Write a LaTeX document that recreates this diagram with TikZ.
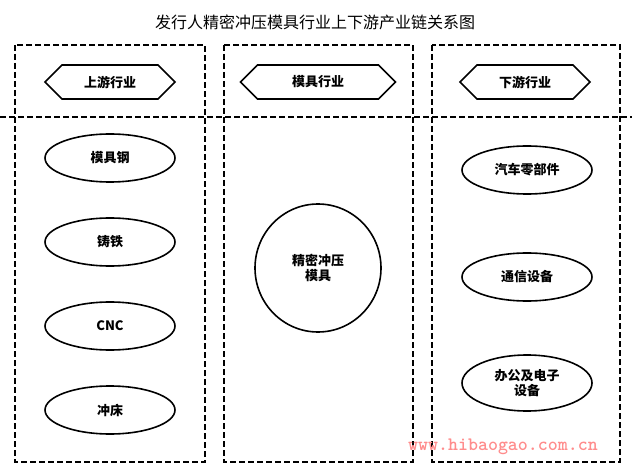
\documentclass[tikz,border=0pt]{standalone}
\usepackage{fontspec}
\newfontfamily\cjk{Noto Sans CJK SC}
\usetikzlibrary{shapes.geometric,shapes.symbols}
\tikzset{
  column/.style={draw,line width=1.6pt,dash pattern=on 6pt off 3pt},
  header/.style={draw,line width=1.6pt,signal,signal to=west and east,minimum width=130pt,minimum height=34pt,inner sep=0pt,font=\cjk\bfseries\fontsize{13}{15}\selectfont},
  item/.style={draw,line width=1.6pt,ellipse,minimum width=130pt,minimum height=48pt,inner sep=0pt,align=center,font=\cjk\bfseries\fontsize{13}{15}\selectfont}
}
\begin{document}
\begin{tikzpicture}[x=1pt,y=-1pt]
\useasboundingbox (0,0) rectangle (632,473);
\node[font=\cjk\fontsize{16}{18}\selectfont] (title) at (315,22) {发行人精密冲压模具行业上下游产业链关系图};
% columns
\draw[column] (15,45) rectangle (205,462);
\draw[column] (224,45) rectangle (413,462);
\draw[column] (432,45) rectangle (620,462);
\draw[column] (0,117) -- (632,117);
% headers
\node[header] (up) at (110,82) {上游行业};
\node[header,minimum width=155pt] (mid) at (318,82) {模具行业};
\node[header] (down) at (525,82) {下游行业};
% upstream
\node[item] (steel) at (110,158) {模具钢};
\node[item] (iron) at (110,242) {铸铁};
\node[item] (cnc) at (110,326) {CNC};
\node[item] (press) at (110,410) {冲床};
% middle
\node[item,minimum width=126pt,minimum height=128pt] (die) at (318,268) {精密冲压\\模具};
% downstream
\node[item] (auto) at (527,170) {汽车零部件};
\node[item] (comm) at (527,277) {通信设备};
\node[item,minimum height=56pt] (office) at (527,383) {办公及电子\\设备};
% watermark
\node[font=\ttfamily\bfseries\fontsize{19}{21}\selectfont,text=red!45] (mark) at (503,447) {www.hibaogao.com.cn};
\end{tikzpicture}
\end{document}
